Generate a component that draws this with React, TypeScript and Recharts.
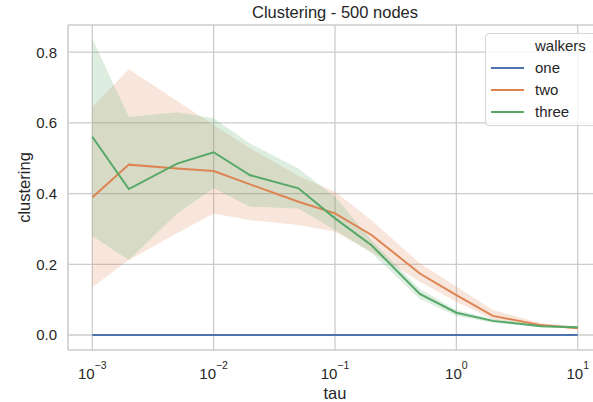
import React from "react";
import {
  ComposedChart,
  Line,
  Area,
  XAxis,
  YAxis,
  CartesianGrid,
  Legend,
  ReferenceLine,
} from "recharts";

const tau = [0.001, 0.002, 0.005, 0.01, 0.02, 0.05, 0.1, 0.2, 0.5, 1, 2, 5, 10];
const one = [0, 0, 0, 0, 0, 0, 0, 0, 0, 0, 0, 0, 0];
const two = [0.389, 0.482, 0.471, 0.464, 0.426, 0.377, 0.344, 0.283, 0.174, 0.113, 0.054, 0.028, 0.019];
const twoLow = [0.135, 0.212, 0.288, 0.344, 0.325, 0.311, 0.292, 0.235, 0.151, 0.094, 0.044, 0.025, 0.016];
const twoHigh = [0.645, 0.752, 0.662, 0.594, 0.528, 0.45, 0.405, 0.325, 0.203, 0.137, 0.071, 0.033, 0.024];
const three = [0.561, 0.413, 0.485, 0.517, 0.452, 0.415, 0.33, 0.254, 0.116, 0.063, 0.04, 0.025, 0.022];
const threeLow = [0.28, 0.212, 0.344, 0.415, 0.363, 0.358, 0.297, 0.232, 0.102, 0.054, 0.035, 0.022, 0.019];
const threeHigh = [0.839, 0.617, 0.63, 0.613, 0.542, 0.471, 0.391, 0.268, 0.13, 0.071, 0.045, 0.028, 0.025];

const xTicks = [0.001, 0.01, 0.1, 1, 10];
const yTicks = [0, 0.2, 0.4, 0.6, 0.8];
const seriesNames = ["one", "two", "three"];
const colors = ["#4c72b0", "#dd8452", "#55a868"];

const X_DOMAIN = [Math.pow(10, -3.2), Math.pow(10, 1.2)];
const Y_DOMAIN = [-0.0424, 0.877];

const data = tau.map((t, i) => ({
  tau: t,
  one: one[i],
  two: two[i],
  three: three[i],
  twoBand: [twoLow[i], twoHigh[i]],
  threeBand: [threeLow[i], threeHigh[i]],
}));

const FONT = '"Liberation Sans", Arial, sans-serif';
const TEXT = "#262626";
const GRID = "#cccccc";

const XTick = (props: any) => {
  const { x, y, payload } = props;
  const exp = Math.round(Math.log10(payload.value));
  const expStr = exp < 0 ? "\u2212" + Math.abs(exp) : String(exp);
  return (
    <text x={x} y={y + 29} textAnchor="middle" fill={TEXT} fontFamily={FONT} fontSize={15}>
      <tspan>10</tspan>
      <tspan dy={-10} fontSize={10.5}>{expStr}</tspan>
    </text>
  );
};

const LegendBox = () => (
  <div
    style={{
      position: "relative",
      width: 130,
      height: 93,
      background: "rgba(255,255,255,0.8)",
      border: "1px solid #d6d6d6",
      borderRadius: 4,
      boxSizing: "border-box",
      fontFamily: FONT,
      fontSize: 15,
      color: TEXT,
    }}
  >
    <div style={{ position: "absolute", left: 49, top: 3, lineHeight: "18px" }}>walkers</div>
    {seriesNames.map((n, i) => (
      <div key={n}>
        <div
          style={{
            position: "absolute",
            left: 5,
            top: 32.7 + i * 22.2,
            width: 33,
            height: 2,
            background: colors[i],
          }}
        />
        <div style={{ position: "absolute", left: 49, top: 24.5 + i * 22.2, lineHeight: "18px" }}>{n}</div>
      </div>
    ))}
  </div>
);

export default function App() {
  return (
    <div
      style={{
        position: "absolute",
        left: 0,
        top: 0,
        width: 593,
        height: 402,
        overflow: "hidden",
        background: "#ffffff",
      }}
    >
      <ComposedChart
        width={620}
        height={402}
        data={data}
        margin={{ top: 25, right: 18, bottom: 0, left: 0 }}
      >
        <CartesianGrid stroke={GRID} strokeWidth={1.3} horizontalValues={yTicks} verticalValues={xTicks} />
        <XAxis
          dataKey="tau"
          type="number"
          scale="log"
          domain={X_DOMAIN}
          allowDataOverflow
          ticks={xTicks}
          tick={<XTick />}
          tickLine={false}
          tickSize={0}
          tickMargin={0}
          height={52}
          axisLine={{ stroke: GRID, strokeWidth: 1.6 }}
          label={{
            content: () => (
              <text x={335} y={399} textAnchor="middle" fill={TEXT} fontFamily={FONT} fontSize={16.5}>
                tau
              </text>
            ),
          }}
        />
        <YAxis
          type="number"
          domain={Y_DOMAIN}
          allowDataOverflow
          ticks={yTicks}
          tickFormatter={(v: number) => v.toFixed(1)}
          tick={{ fill: TEXT, fontFamily: FONT, fontSize: 15 }}
          tickLine={false}
          tickSize={0}
          tickMargin={11}
          width={68}
          axisLine={{ stroke: GRID, strokeWidth: 1.6 }}
          label={{
            content: () => (
              <text
                x={24}
                y={187.5}
                transform="rotate(-90 24 187.5)"
                textAnchor="middle"
                dominantBaseline="central"
                fill={TEXT}
                fontFamily={FONT}
                fontSize={16.5}
              >
                clustering
              </text>
            ),
          }}
        />
        <ReferenceLine
          y={Y_DOMAIN[1]}
          stroke={GRID}
          strokeWidth={1.6}
          ifOverflow="visible"
          label={{
            content: () => (
              <text x={335} y={18} textAnchor="middle" fill={TEXT} fontFamily={FONT} fontSize={16.5}>
                Clustering - 500 nodes
              </text>
            ),
          }}
        />
        <Line
          dataKey="one"
          stroke={colors[0]}
          strokeWidth={2}
          dot={false}
          type="linear"
          isAnimationActive={false}
        />
        <Line
          dataKey="two"
          stroke={colors[1]}
          strokeWidth={2}
          dot={false}
          type="linear"
          isAnimationActive={false}
        />
        <Area
          dataKey="twoBand"
          stroke="none"
          fill={colors[1]}
          fillOpacity={0.2}
          type="linear"
          isAnimationActive={false}
          activeDot={false}
        />
        <Line
          dataKey="three"
          stroke={colors[2]}
          strokeWidth={2}
          dot={false}
          type="linear"
          isAnimationActive={false}
        />
        <Area
          dataKey="threeBand"
          stroke="none"
          fill={colors[2]}
          fillOpacity={0.2}
          type="linear"
          isAnimationActive={false}
          activeDot={false}
        />
        <Legend
          layout="horizontal"
          verticalAlign="middle"
          align="center"
          content={() => <LegendBox />}
          wrapperStyle={{ top: 33, left: 485, width: 130, height: 93 }}
        />
      </ComposedChart>
    </div>
  );
}
